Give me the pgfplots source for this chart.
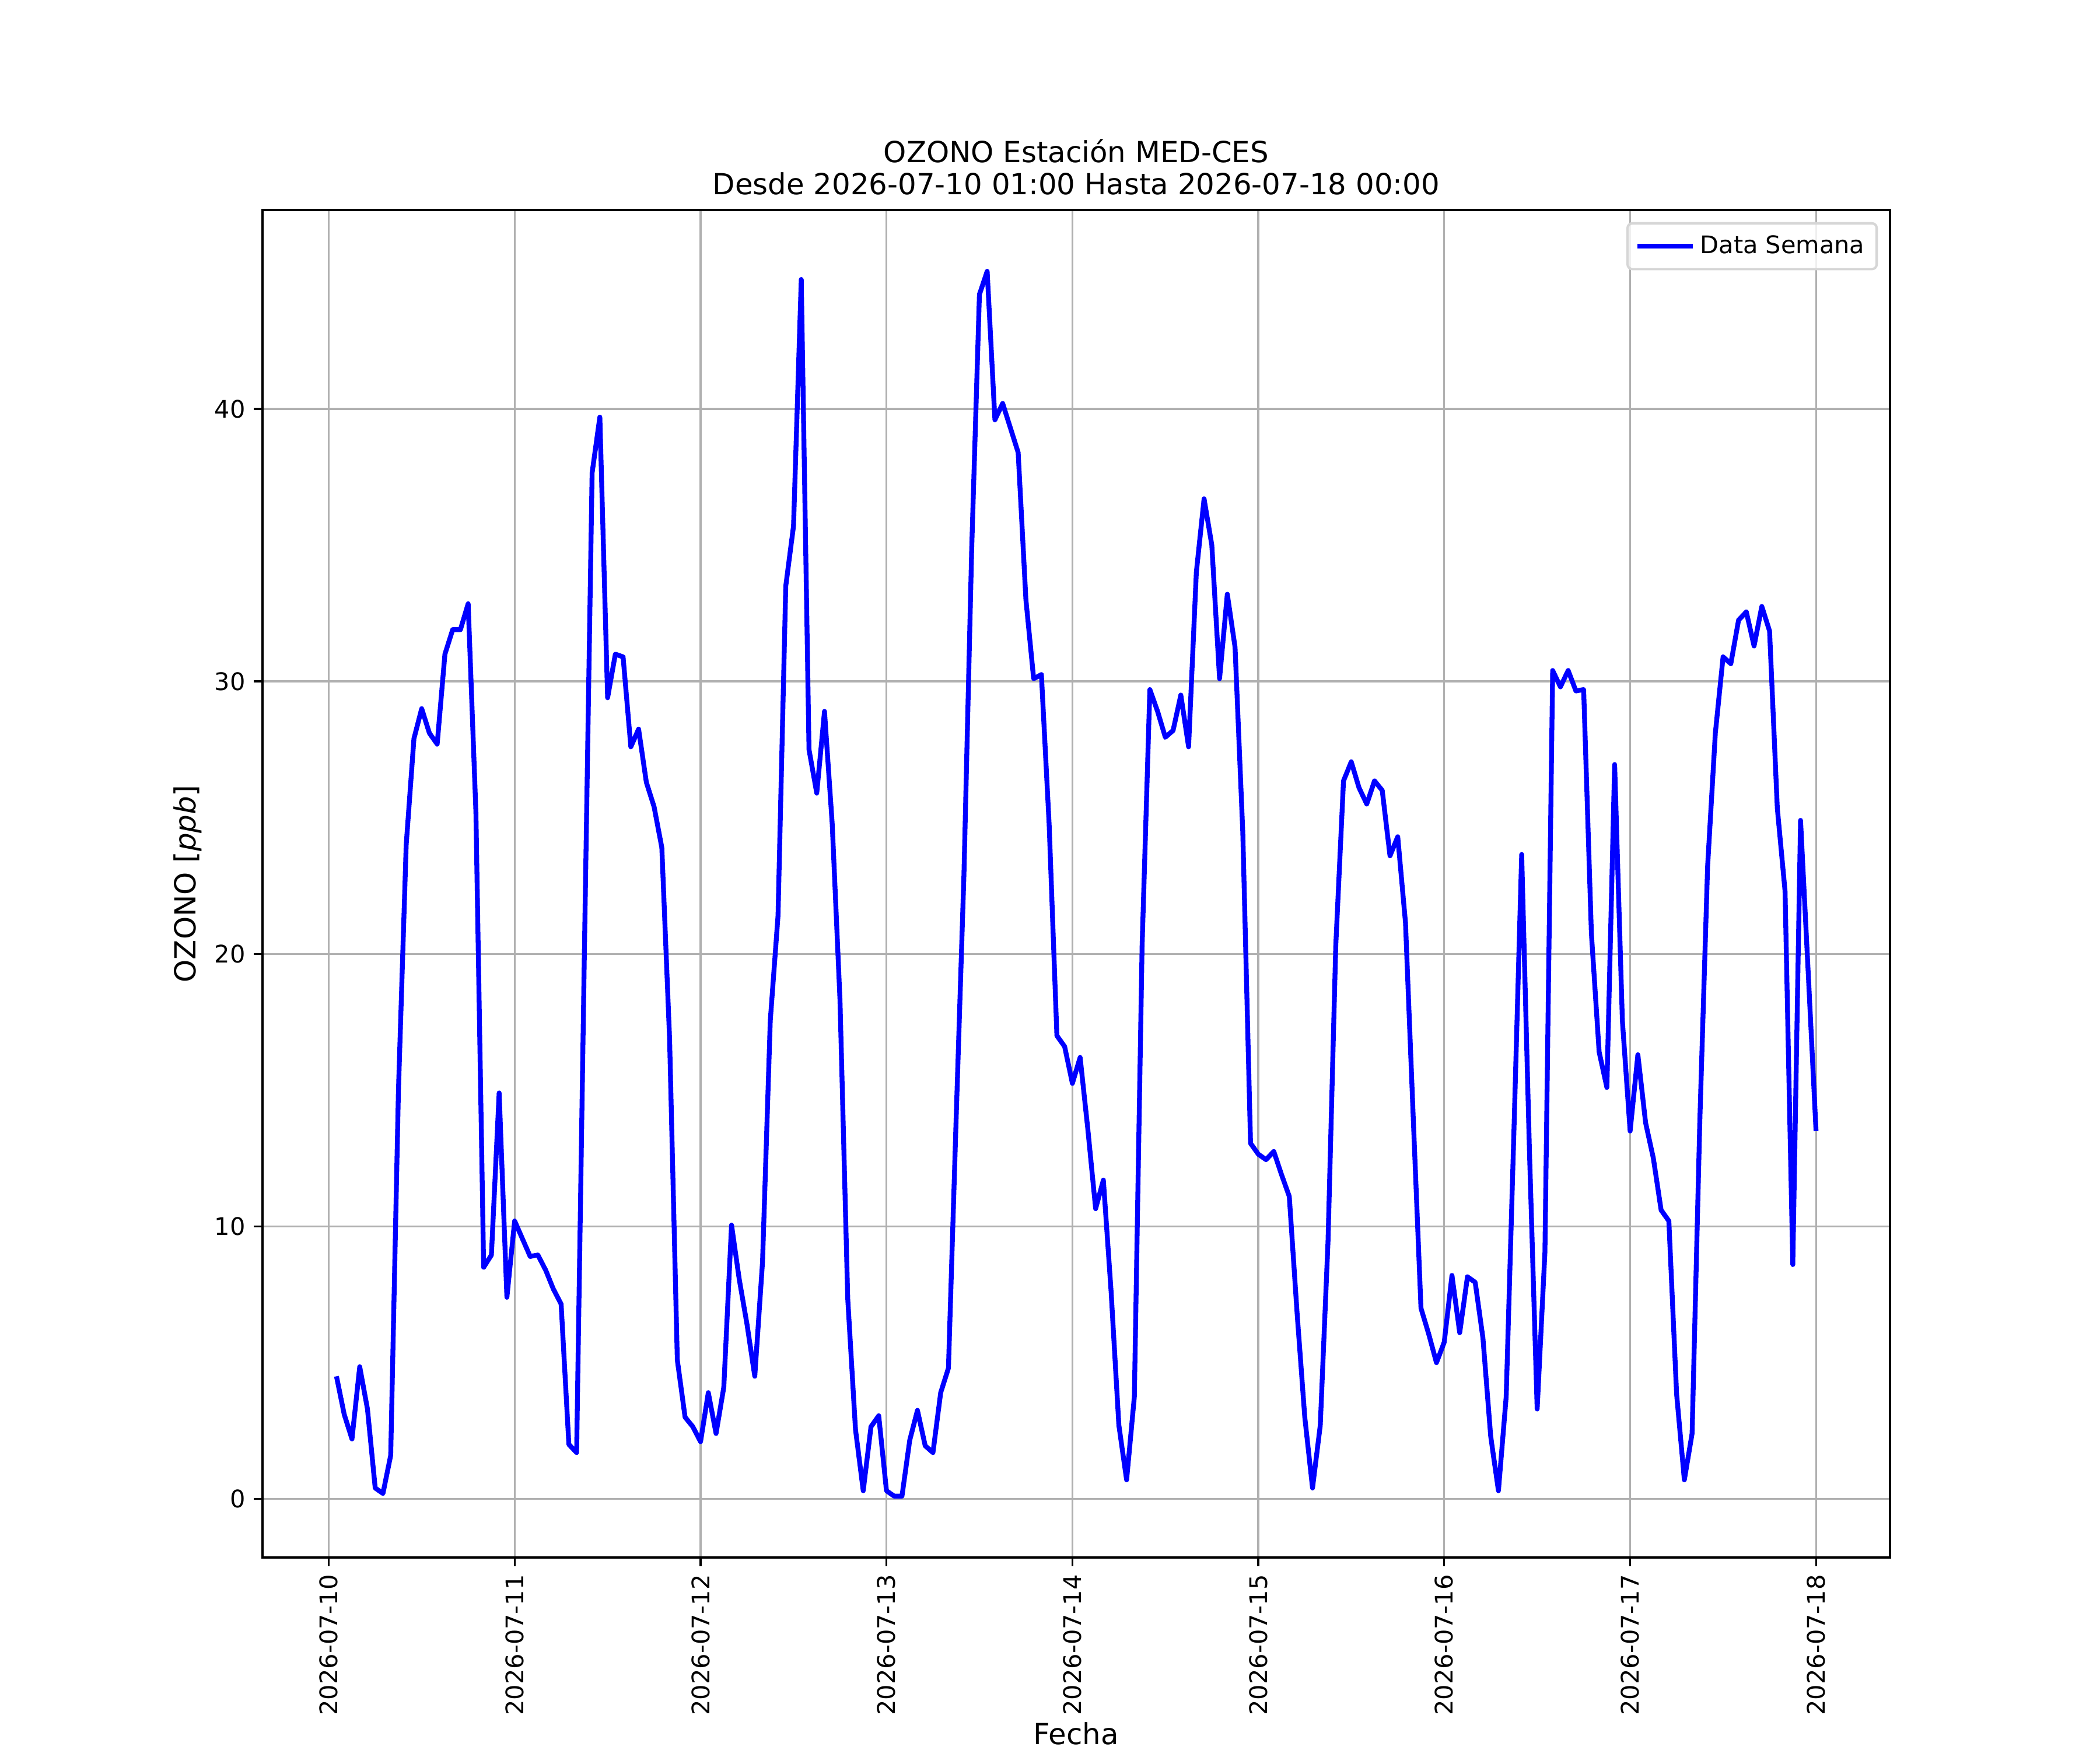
\documentclass[border=0pt]{standalone}
\usepackage{fontspec}
\setmainfont{DejaVu Sans}
\usepackage{pgfplots}
\usepackage{pgfplotstable}
\pgfplotsset{compat=1.18}
\definecolor{gridgray}{HTML}{B0B0B0}
\definecolor{legframe}{HTML}{D6D6D6}
\pgfplotstableread{
h v
1 4.5
2 3.1
3 2.2
4 4.85
5 3.3
6 0.4
7 0.2
8 1.6
9 15.0
10 24.0
11 27.9
12 29.0
13 28.1
14 27.7
15 31.0
16 31.9
17 31.9
18 32.85
19 25.2
20 8.5
21 8.95
22 14.9
23 7.4
24 10.2
25 9.55
26 8.9
27 8.95
28 8.4
29 7.7
30 7.15
31 2.0
32 1.7
33 20.0
34 37.65
35 39.7
36 29.4
37 31.0
38 30.9
39 27.6
40 28.25
41 26.3
42 25.4
43 23.9
44 16.9
45 5.1
46 3.0
47 2.65
48 2.1
49 3.9
50 2.4
51 4.1
52 10.05
53 8.05
54 6.4
55 4.5
56 8.7
57 17.55
58 21.4
59 33.5
60 35.7
61 44.75
62 27.5
63 25.9
64 28.9
65 24.75
66 18.3
67 7.35
68 2.55
69 0.3
70 2.65
71 3.05
72 0.3
73 0.1
74 0.1
75 2.15
76 3.25
77 1.95
78 1.7
79 3.9
80 4.8
81 14.0
82 22.9
83 34.85
84 44.2
85 45.05
86 39.6
87 40.2
88 39.3
89 38.4
90 33.0
91 30.1
92 30.25
93 24.75
94 17.0
95 16.6
96 15.25
97 16.2
98 13.55
99 10.65
100 11.7
101 7.6
102 2.7
103 0.7
104 3.75
105 20.3
106 29.7
107 28.9
108 27.95
109 28.2
110 29.5
111 27.6
112 34.0
113 36.7
114 35.0
115 30.1
116 33.2
117 31.25
118 24.45
119 13.05
120 12.65
121 12.45
122 12.75
123 11.9
124 11.1
125 6.85
126 3.0
127 0.4
128 2.7
129 9.45
130 20.3
131 26.35
132 27.05
133 26.1
134 25.5
135 26.35
136 26.0
137 23.6
138 24.3
139 21.15
140 14.0
141 7.0
142 6.05
143 5.0
144 5.75
145 8.2
146 6.1
147 8.15
148 7.95
149 5.9
150 2.3
151 0.3
152 3.75
153 13.5
154 23.65
155 12.8
156 3.3
157 9.05
158 30.4
159 29.8
160 30.4
161 29.65
162 29.7
163 20.75
164 16.4
165 15.1
166 26.95
167 17.55
168 13.5
169 16.3
170 13.8
171 12.5
172 10.6
173 10.2
174 3.85
175 0.7
176 2.4
177 13.9
178 23.2
179 28.1
180 30.9
181 30.65
182 32.25
183 32.55
184 31.3
185 32.75
186 31.85
187 25.35
188 22.3
189 8.6
190 24.9
191 19.25
192 13.5
}\ozono
\begin{document}
\begin{tikzpicture}
\path[use as bounding box] (-1.5in,-1.1in) rectangle (10.5in,8.9in);
\begin{axis}[
  at={(0,0)}, anchor=south west,
  width=9.3in, height=7.7in, scale only axis,
  xmin=-8.55, xmax=201.55, ymin=-2.15, ymax=47.3,
  xtick={0,24,48,72,96,120,144,168,192},
  xticklabels={2026-07-10,2026-07-11,2026-07-12,2026-07-13,2026-07-14,2026-07-15,2026-07-16,2026-07-17,2026-07-18},
  ytick={0,10,20,30,40},
  grid=major,
  major grid style={color=gridgray, line width=0.8pt},
  axis line style={line width=0.8pt, black},
  every tick/.style={line width=0.8pt, black},
  major tick length=3.5pt,
  tick align=outside,
  xtick pos=bottom, ytick pos=left,
  /pgf/number format/assume math mode=true,
  ticklabel style={font=\fontsize{10}{12}\selectfont},
  xticklabel style={rotate=90, anchor=east},
  xlabel={Fecha},
  ylabel={OZONO [\textit{ppb}]},
  label style={font=\fontsize{12}{14}\selectfont},
  xlabel style={at={(axis description cs:0.5,0)}, anchor=base, yshift=-77.3pt},
  ylabel style={at={(axis description cs:0,0.5)}, anchor=center, yshift=31pt},
  title={OZONO Estación MED-CES\\Desde 2026-07-10 01:00 Hasta 2026-07-18 00:00},
  title style={at={(axis description cs:0.5,1)}, anchor=south, yshift=0pt, inner sep=0pt, align=center, font=\fontsize{12}{13.2}\selectfont},
  legend style={at={(axis description cs:1,1)}, anchor=north east, xshift=-5pt, yshift=-5pt,
    draw=legframe, line width=1pt, rounded corners=2pt, fill=white, fill opacity=0.8, text opacity=1,
    font=\fontsize{10}{12}\selectfont, inner xsep=3pt, inner ysep=3pt},
  legend cell align=left,
  legend image code/.code={\draw[#1] (-1pt,0pt) -- (22pt,0pt);},
]
\addplot[color=blue, line width=2pt, line join=round] table[x=h, y=v] {\ozono};
\addlegendentry{Data Semana}
\end{axis}
\end{tikzpicture}
\end{document}
